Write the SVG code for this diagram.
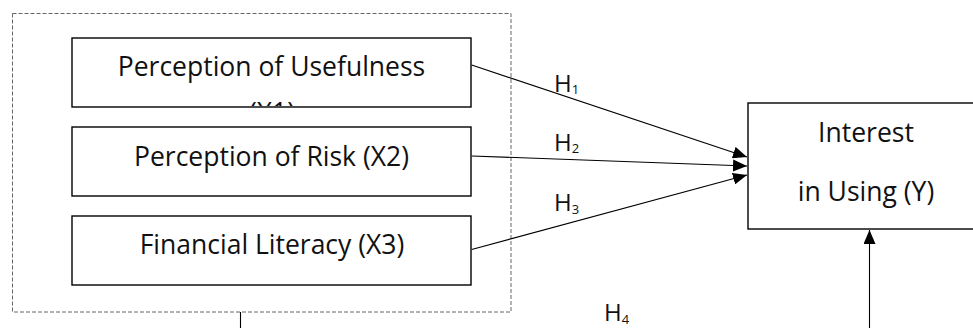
<svg xmlns="http://www.w3.org/2000/svg" width="973" height="328" viewBox="0 0 973 328">
<style>
  .box { fill: #fff; stroke: #000; stroke-width: 1.4; }
  .lbl { font-family: "Open Sans", "Noto Sans", sans-serif; font-size: 26.5px; fill: #111; text-anchor: middle; }
  .h { font-family: "Open Sans", "Noto Sans", sans-serif; font-size: 24px; fill: #111; }
  .sub { font-size: 13px; }
  .con { fill: none; stroke: #000; stroke-width: 1.1; }
  .group { fill: none; stroke: #666; stroke-width: 1; stroke-dasharray: 4 2; }
</style>
<defs>
  <marker id="arr" markerUnits="userSpaceOnUse" markerWidth="16" markerHeight="12" refX="14" refY="6" orient="auto">
    <path d="M0,0 L14,6 L0,12 Z" fill="#000"/>
  </marker>
  <clipPath id="clip1"><rect x="72" y="38" width="399" height="68"/></clipPath>
</defs>
<rect width="973" height="328" fill="#fff"/>
<g id="group-x">
  <rect class="group" x="12.5" y="13.5" width="498.5" height="298.5"/>
</g>
<g id="x1">
  <rect class="box" x="72" y="38" width="399" height="69"/>
  <text class="lbl" x="271.5" y="76">Perception of Usefulness</text>
  <text class="lbl" x="272" y="122" clip-path="url(#clip1)">(X1)</text>
</g>
<g id="x2">
  <rect class="box" x="72" y="127" width="399" height="69"/>
  <text class="lbl" x="271.5" y="166">Perception of Risk (X2)</text>
</g>
<g id="x3">
  <rect class="box" x="72" y="216" width="399" height="69"/>
  <text class="lbl" x="272" y="254">Financial Literacy (X3)</text>
</g>
<g id="y">
  <rect class="box" x="748" y="103" width="236" height="126"/>
  <text class="lbl" x="866" y="142">Interest</text>
  <text class="lbl" x="866" y="201">in Using (Y)</text>
</g>
<g id="connectors">
  <line class="con" x1="471.7" y1="65" x2="747" y2="157" marker-end="url(#arr)"/>
  <line class="con" x1="471.7" y1="156" x2="747" y2="166" marker-end="url(#arr)"/>
  <line class="con" x1="471.7" y1="249.5" x2="747" y2="175" marker-end="url(#arr)"/>
  <path class="con" d="M240.5,312 V340 H869.5 V230" stroke="#333" stroke-width="1.3" marker-end="url(#arr)"/>
  <text class="h" x="554" y="92">H<tspan class="sub" dy="2">1</tspan></text>
  <text class="h" x="554" y="151">H<tspan class="sub" dy="2">2</tspan></text>
  <text class="h" x="554" y="211">H<tspan class="sub" dy="3">3</tspan></text>
  <text class="h" x="604" y="321">H<tspan class="sub" font-size="14" dy="3">4</tspan></text>
</g>
</svg>
